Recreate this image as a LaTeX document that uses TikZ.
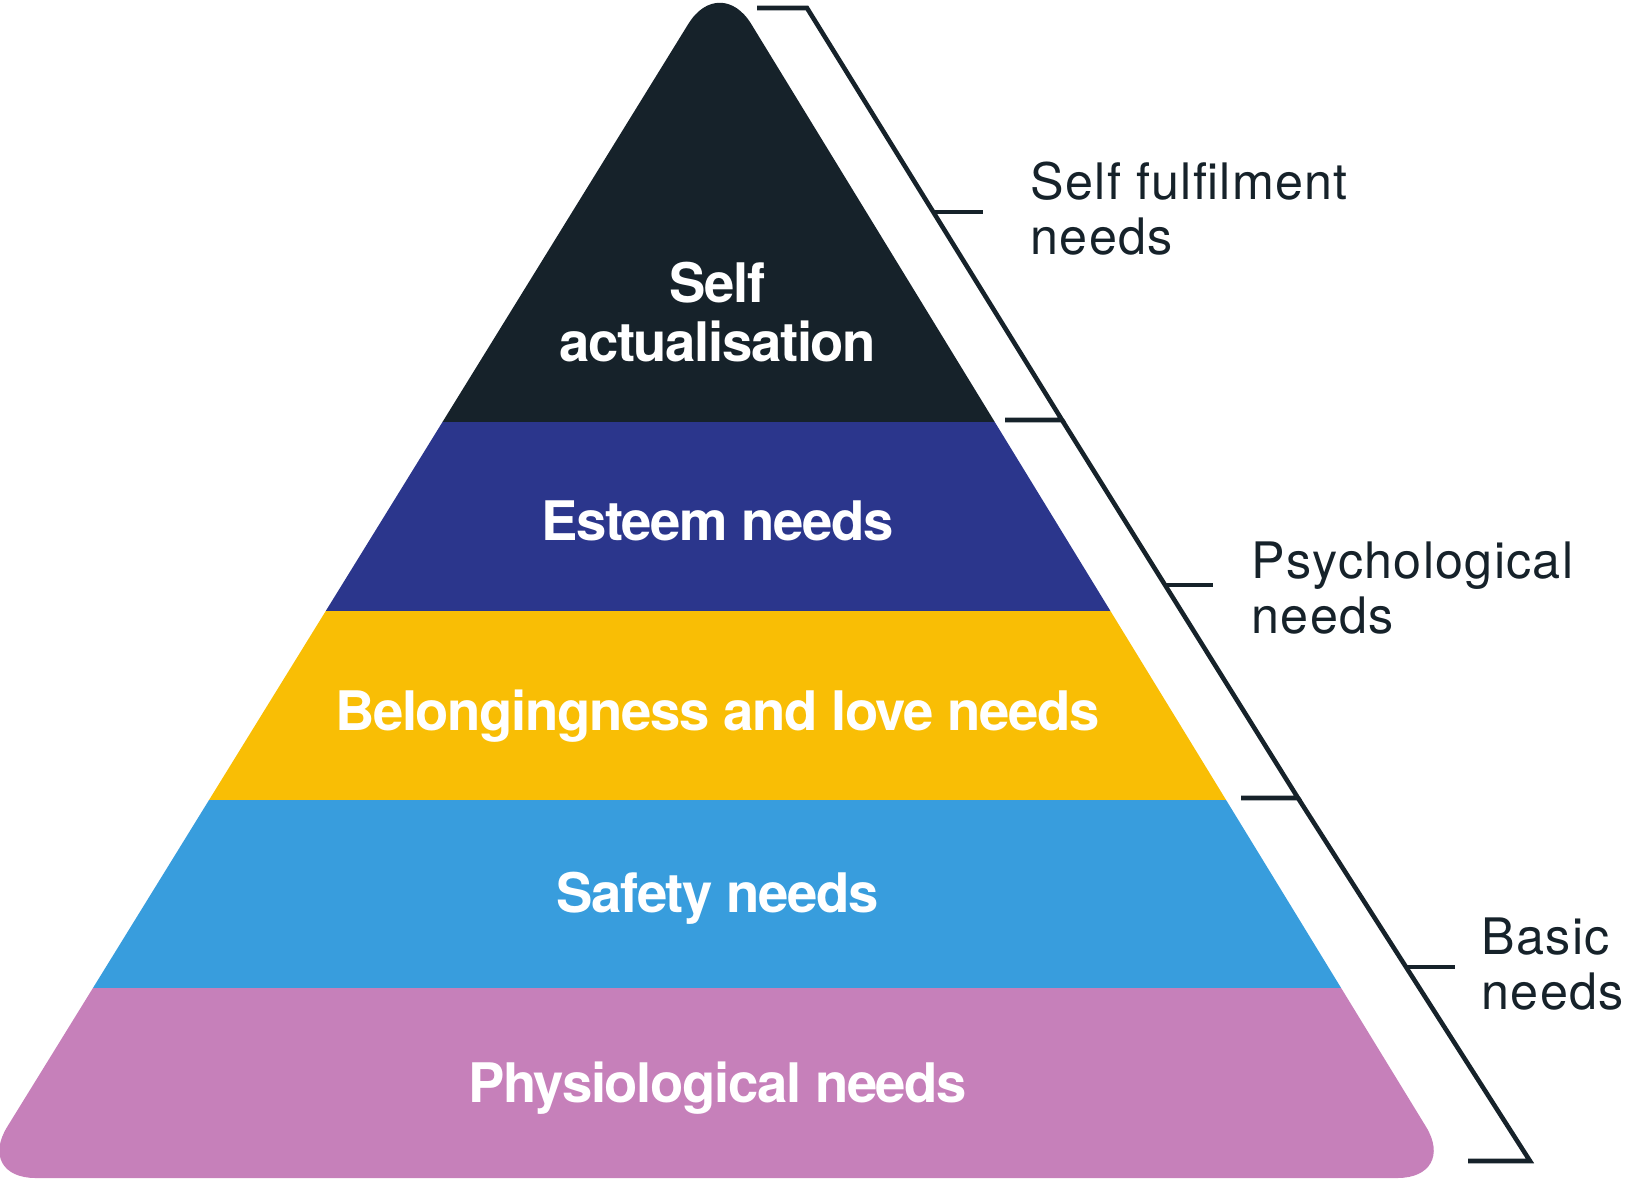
\documentclass[tikz,border=0pt]{standalone}
\usepackage{fontspec}
\setmainfont{TeX Gyre Heros}
\newfontfamily\bandfont[LetterSpace=-2.5]{TeX Gyre Heros}
\newfontfamily\tagfont[LetterSpace=2.5]{TeX Gyre Heros}
\usetikzlibrary{calc}
\definecolor{inkdark}{HTML}{16222A}
\definecolor{esteemblue}{HTML}{2B368C}
\definecolor{belongyellow}{HTML}{F9BE05}
\definecolor{safetyblue}{HTML}{389DDD}
\definecolor{physiopink}{HTML}{C680BA}

\begin{document}
\begin{tikzpicture}[
  x=0.01cm, y=-0.01cm,
  band/.style={font=\bandfont\bfseries\fontsize{15.5}{16.6}\selectfont, text=white, anchor=base, align=center, inner sep=0pt},
  tag/.style={font=\tagfont\fontsize{14.3}{15.6}\selectfont, text=inkdark, anchor=base west, align=left, inner sep=0pt},
  brk/.style={draw=inkdark, line width=1.3pt}
]
\useasboundingbox (0,0) rectangle (1633,1178);
\coordinate (apex) at (719.9,-27.2);
\coordinate (br) at (1457.4,1178);
\coordinate (bl) at (-24.4,1178);
\begin{scope}
  \clip[rounded corners=0.6cm] (apex) -- (br) -- (bl) -- cycle;
  \foreach \top/\bot/\col in {-30/421.8/inkdark, 421.8/611.4/esteemblue,
      611.4/799.9/belongyellow, 799.9/988.4/safetyblue, 988.4/1180/physiopink}
    \fill[\col] (-30,\top) rectangle (1460,\bot);
\end{scope}
\node[band] (selfact) at (717.6,361) {Self\\actualisation};
\node[band] (est) at (717.6,540) {Esteem needs};
\node[band] (bel) at (717.6,730) {Belongingness and love needs};
\node[band] (saf) at (717.6,912) {Safety needs};
\node[band] (phy) at (717.6,1102) {Physiological needs};

\coordinate (t0) at (757,8);
\coordinate (d0) at (807,8);
\coordinate (d1) at (1062,420);
\coordinate (t1) at (1005,420);
\coordinate (d2) at (1298,798);
\coordinate (t2) at (1241,798);
\coordinate (d3) at (1530,1161);
\coordinate (t3) at (1468,1161);
\coordinate (m1) at ($(d0)!0.495!(d1)$);
\coordinate (m2) at ($(d1)!0.437!(d2)$);
\coordinate (m3) at ($(d2)!0.466!(d3)$);
\draw[brk] (t0) -- (d0) -- (d1) -- (t1);
\draw[brk] (d1) -- (d2) -- (t2);
\draw[brk] (d2) -- (d3) -- (t3);
\draw[brk] (m1) -- ++(50,0);
\draw[brk] (m2) -- ++(48,0);
\draw[brk] (m3) -- ++(49,0);

\node[tag] (fulfil) at (1030,254) {Self fulfilment\\needs};
\node[tag] (psych) at (1251,633) {Psychological\\needs};
\node[tag] (basic) at (1481,1009) {Basic\\needs};
\end{tikzpicture}
\end{document}
